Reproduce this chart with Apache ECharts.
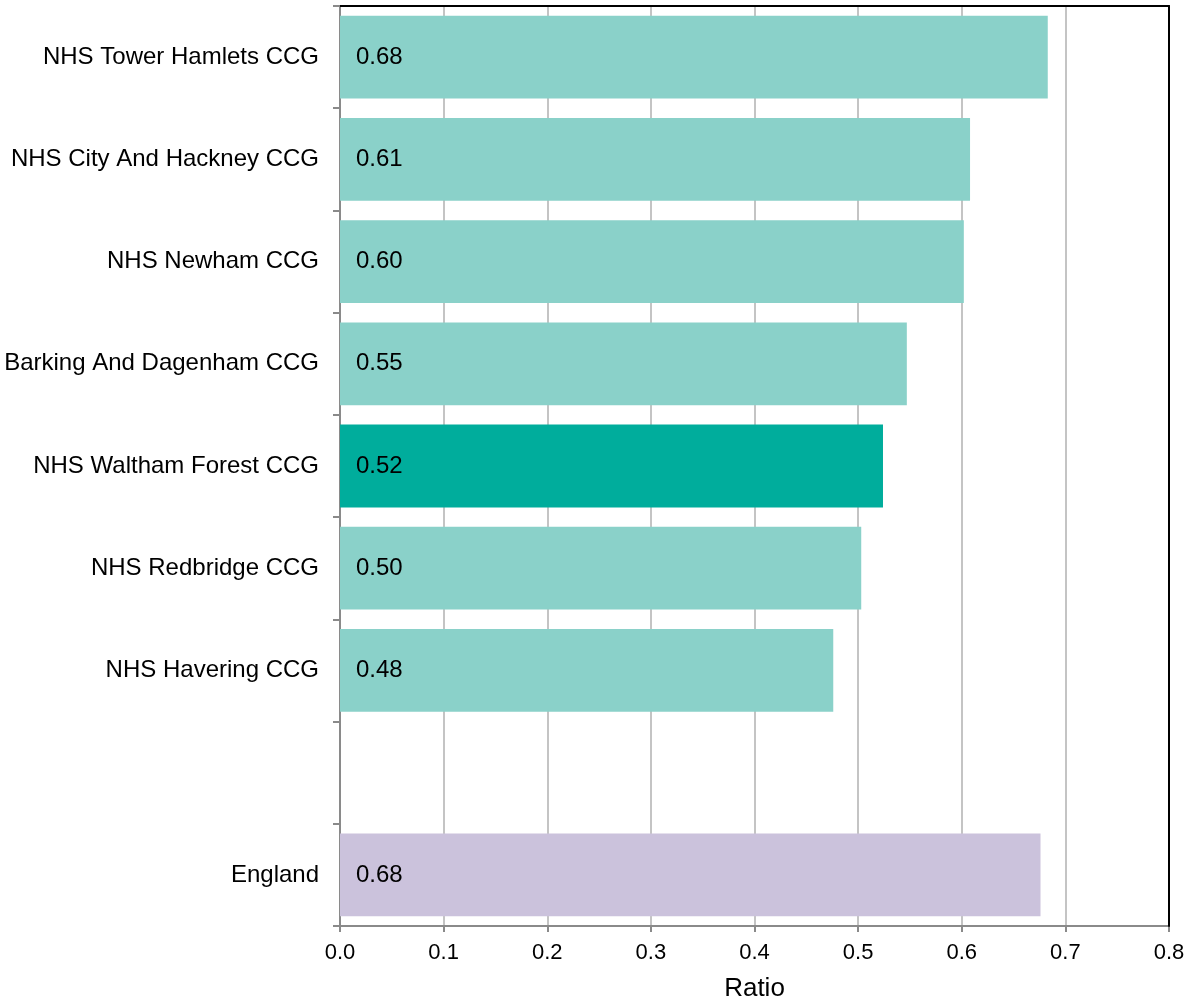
<!DOCTYPE html>
<html>
<head>
<meta charset="utf-8">
<script src="https://cdn.jsdelivr.net/npm/echarts@6/dist/echarts.min.js"></script>
<style>html,body{margin:0;padding:0;background:#fff}#c{width:1186px;height:998px}</style>
</head>
<body>
<div id="c"></div>
<script>
// Categories from top to bottom
const categories = [
  "NHS Tower Hamlets CCG",
  "NHS City And Hackney CCG",
  "NHS Newham CCG",
  "Barking And Dagenham CCG",
  "NHS Waltham Forest CCG",
  "NHS Redbridge CCG",
  "NHS Havering CCG",
  "",
  "England"
];
const values = [0.683, 0.608, 0.602, 0.547, 0.524, 0.503, 0.476, null, 0.676];
const labels = ["0.68", "0.61", "0.60", "0.55", "0.52", "0.50", "0.48", "", "0.68"];
const kinds = ["peer", "peer", "peer", "peer", "focus", "peer", "peer", "none", "england"];
const xTicks = [0, 0.1, 0.2, 0.3, 0.4, 0.5, 0.6, 0.7, 0.8];

const colors = { peer: "#8ad1c9", focus: "#00ad9c", england: "#cbc2dc", none: "#ffffff" };

const font = '"Liberation Sans", Arial, sans-serif';

const data = values.map((v, i) => ({
  value: v === null ? '-' : v,
  itemStyle: { color: colors[kinds[i]] },
  label: { formatter: labels[i] }
}));

const chart = echarts.init(document.getElementById('c'), null, { renderer: 'canvas' });
chart.setOption({
  animation: false,
  backgroundColor: '#ffffff',
  grid: { left: 340, right: 17, top: 6, bottom: 72, containLabel: false, outerBoundsMode: 'none' },
  xAxis: [{
    type: 'value', min: xTicks[0], max: xTicks[xTicks.length - 1], interval: 0.1, position: 'bottom',
    name: 'Ratio', nameLocation: 'middle', nameGap: 50,
    nameTextStyle: { fontFamily: font, fontSize: 26, color: '#000' },
    axisLine: { show: true, onZero: false, lineStyle: { color: '#8a8a8a', width: 2 } },
    axisTick: { show: true, length: 6, lineStyle: { color: '#8a8a8a', width: 2 } },
    axisLabel: { fontFamily: font, fontSize: 22, color: '#000', margin: 16,
      formatter: v => v.toFixed(1) },
    splitLine: { show: true, lineStyle: { color: '#c4c4c4', width: 2 } }
  }, {
    type: 'value', min: xTicks[0], max: xTicks[xTicks.length - 1], interval: 0.1, position: 'top',
    axisLine: { show: true, onZero: false, lineStyle: { color: '#000', width: 2 } },
    axisTick: { show: false }, axisLabel: { show: false }, splitLine: { show: false }
  }],
  yAxis: [{
    type: 'category', data: categories, inverse: true, position: 'left',
    axisLine: { show: true, onZero: false, lineStyle: { color: '#8a8a8a', width: 2 } },
    axisTick: { show: true, length: 7, lineStyle: { color: '#8a8a8a', width: 2 } },
    axisLabel: { fontFamily: font, fontSize: 24, color: '#000', margin: 21, padding: [3, 0, 0, 0] },
    splitLine: { show: false }
  }, {
    type: 'category', data: categories, inverse: true, position: 'right',
    axisLine: { show: true, onZero: false, lineStyle: { color: '#000', width: 2 } },
    axisTick: { show: false }, axisLabel: { show: false }, splitLine: { show: false },
    z: 5
  }],
  series: [{
    type: 'bar', xAxisIndex: 0, yAxisIndex: 0,
    data: data,
    barCategoryGap: '19%',
    z: 3,
    label: { show: true, position: 'insideLeft', distance: 16,
      fontFamily: font, fontSize: 24, color: '#000' }
  }]
});
</script>
</body>
</html>
